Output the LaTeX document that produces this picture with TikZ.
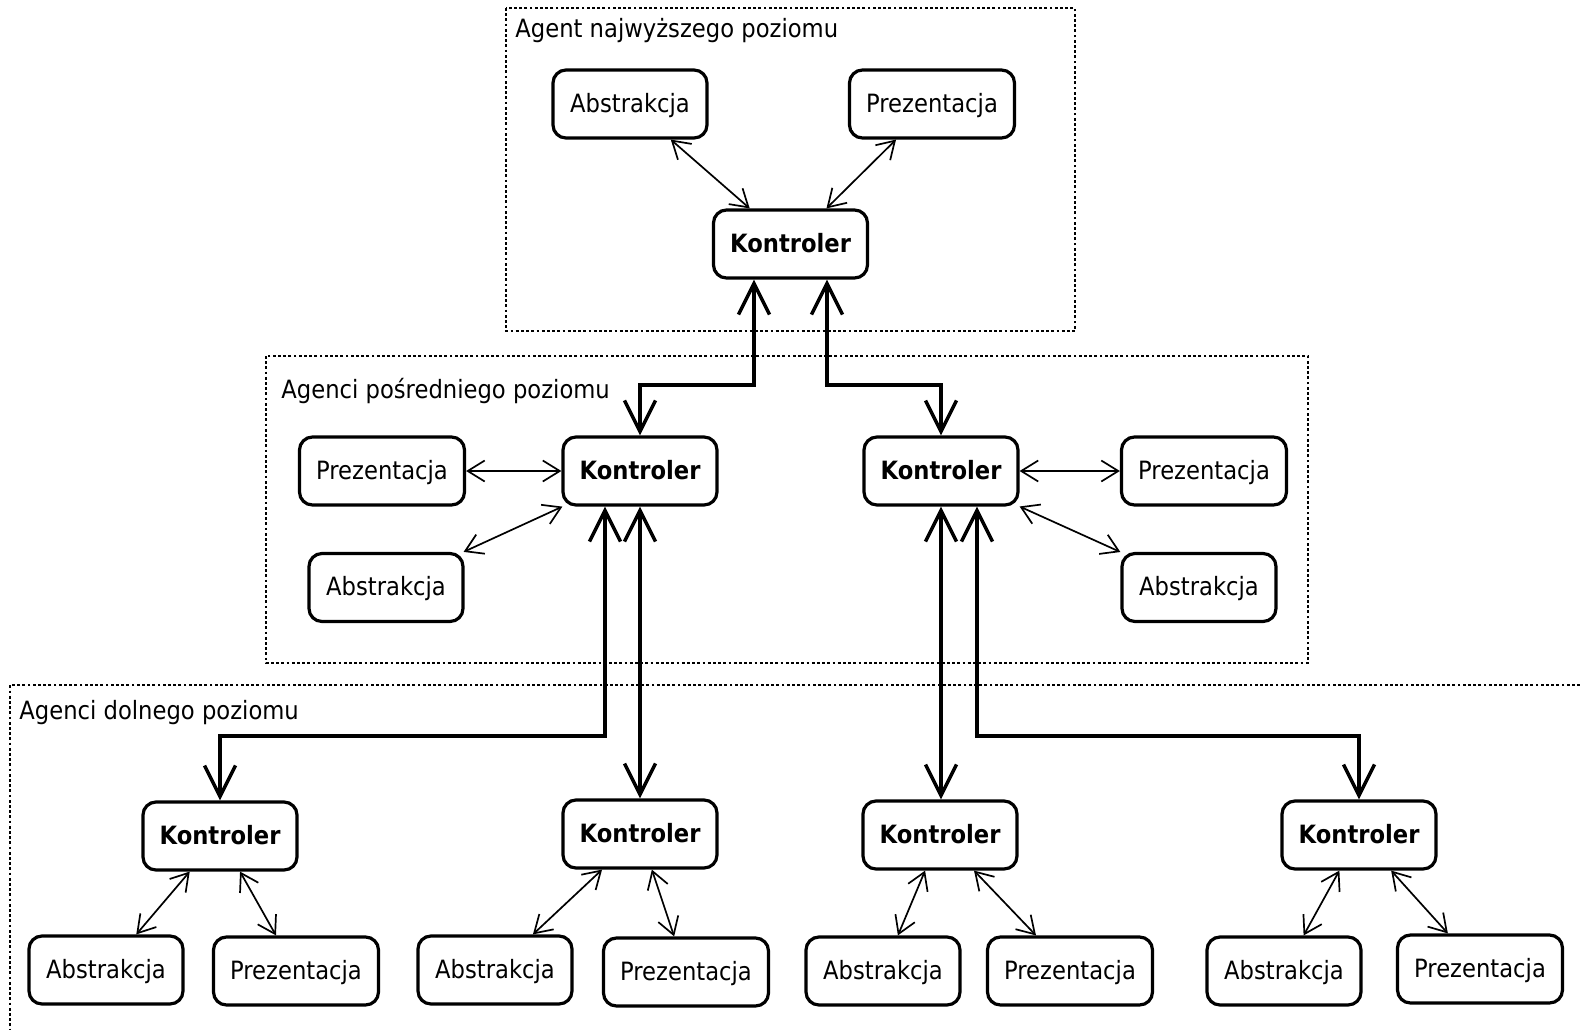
\documentclass[tikz,border=0pt]{standalone}
\usepackage{fontspec}
\setmainfont{DejaVu Sans}[FakeStretch=0.9]
\usetikzlibrary{arrows.meta,calc}

\begin{document}
\begin{tikzpicture}[x=0.5pt,y=-0.5pt,
  txt/.style={font=\fontsize{12.6pt}{14.5pt}\selectfont},
  box/.style={txt, draw, line width=1.6pt, rounded corners=6.5pt,
    minimum height=34pt, inner sep=0pt, text height=9.2pt, text depth=1pt},
  kbox/.style={box, minimum width=77pt, font=\fontsize{12.6pt}{14.5pt}\selectfont\bfseries},
  abox/.style={box, minimum width=77pt},
  pbox/.style={box, minimum width=82.5pt},
  frame/.style={line width=0.7pt, dash pattern=on 1.4pt off 1.2pt},
  link/.style={line width=0.85pt,
    {Straight Barb[length=8.5pt,width=10.5pt]}-{Straight Barb[length=8.5pt,width=10.5pt]}},
  bus/.style={line width=1.75pt,
    {Straight Barb[length=15.5pt,width=15.5pt]}-{Straight Barb[length=15.5pt,width=15.5pt]}},
  lbl/.style={txt, anchor=base west, inner sep=0pt}]

\useasboundingbox (0,0) rectangle (1580,1029);

% dotted frames of the three levels
\draw[frame] (506,8) rectangle (1075,331);
\draw[frame] (266,356) rectangle (1308,663);
\draw[frame] (1580,685) -- (10,685) -- (10,1029);

\node[lbl] (lt) at (515,37) {Agent najwyższego poziomu};
\node[lbl] (lm) at (281,398) {Agenci pośredniego poziomu};
\node[lbl] (lb) at (19,719) {Agenci dolnego poziomu};

% top level agent
\node[abox] (tA) at (630,104) {Abstrakcja};
\node[pbox] (tP) at (932,104) {Prezentacja};
\node[kbox] (tK) at (790.5,244) {Kontroler};

% middle level agents
\node[pbox] (mPL) at (382,471) {Prezentacja};
\node[kbox] (mKL) at (640,471) {Kontroler};
\node[abox] (mAL) at (386,587.5) {Abstrakcja};
\node[kbox] (mKR) at (941,471) {Kontroler};
\node[pbox] (mPR) at (1204,471) {Prezentacja};
\node[abox] (mAR) at (1199,587.5) {Abstrakcja};

% bottom level agents
\node[kbox] (bK1) at (220,836) {Kontroler};
\node[kbox] (bK2) at (640,834) {Kontroler};
\node[kbox] (bK3) at (940,835) {Kontroler};
\node[kbox] (bK4) at (1359,835) {Kontroler};
\node[abox] (bA1) at (106,970) {Abstrakcja};
\node[pbox] (bP1) at (296,971) {Prezentacja};
\node[abox] (bA2) at (495,970) {Abstrakcja};
\node[pbox] (bP2) at (686,972) {Prezentacja};
\node[abox] (bA3) at (883,971) {Abstrakcja};
\node[pbox] (bP3) at (1070,971) {Prezentacja};
\node[abox] (bA4) at (1284,971) {Abstrakcja};
\node[pbox] (bP4) at (1480,969) {Prezentacja};

% links inside each agent
\draw[link] (tA) -- (tK);
\draw[link] (tP) -- (tK);
\draw[link] (mPL) -- (mKL);
\draw[link] (mAL) -- (mKL);
\draw[link] (mKR) -- (mPR);
\draw[link] (mKR) -- (mAR);
\draw[link] (bK1) -- (bA1);
\draw[link] (bK1) -- (bP1);
\draw[link] (bK2) -- (bA2);
\draw[link] (bK2) -- (bP2);
\draw[link] (bK3) -- (bA3);
\draw[link] (bK3) -- (bP3);
\draw[link] (bK4) -- (bA4);
\draw[link] (bK4) -- (bP4);

% controller hierarchy
\coordinate (j1) at (0,385);
\coordinate (j2) at (0,736);
\draw[bus] ($(tK.south)+(-36.5,0)$) |- (j1 -| mKL.north) -- (mKL.north);
\draw[bus] ($(tK.south)+(36.5,0)$) |- (j1 -| mKR.north) -- (mKR.north);
\draw[bus] ($(mKL.south)+(-35,0)$) |- (j2 -| bK1.north) -- (bK1.north);
\draw[bus] (mKL.south) -- (mKL.south |- bK2.north);
\draw[bus] (mKR.south) -- (mKR.south |- bK3.north);
\draw[bus] ($(mKR.south)+(36,0)$) |- (j2 -| bK4.north) -- (bK4.north);
\end{tikzpicture}
\end{document}
